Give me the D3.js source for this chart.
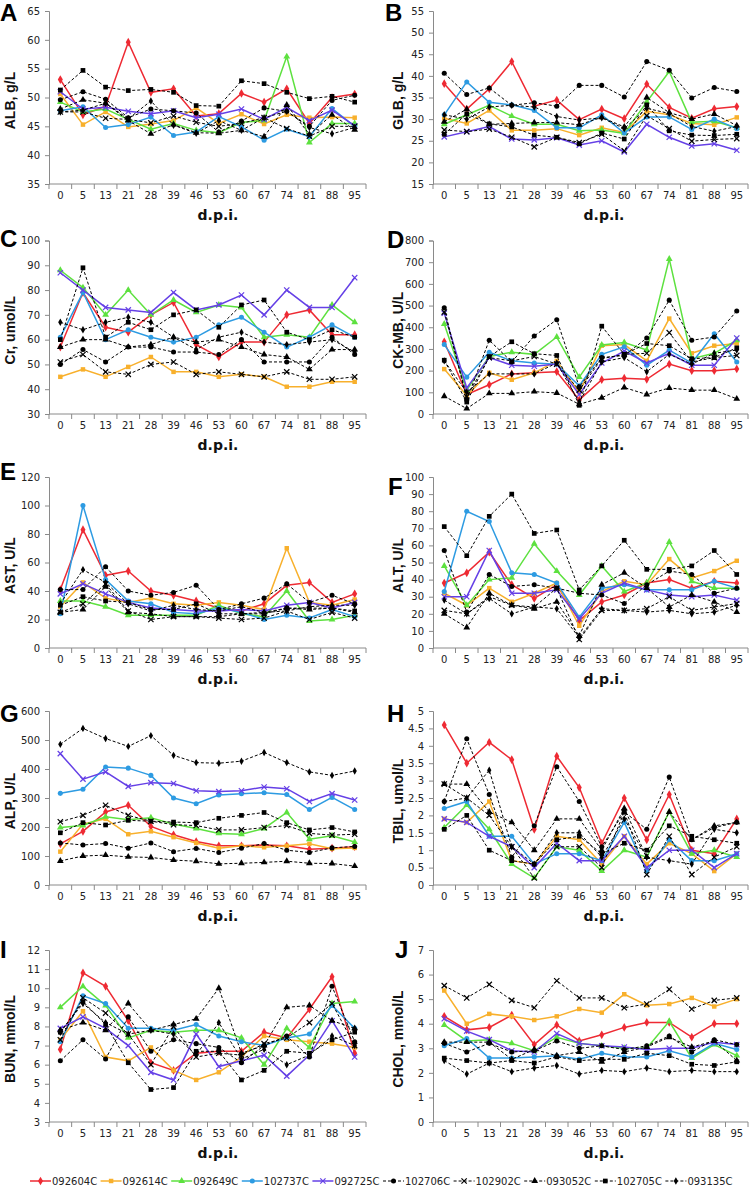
<!DOCTYPE html>
<html><head><meta charset="utf-8">
<script src="https://cdn.jsdelivr.net/npm/d3@7"></script>
<style>body{margin:0;background:#fff}</style>
</head><body>
<svg id="c" width="750" height="1190"></svg>
<script>
// ---------- DATA ----------
const categories = ["0","5","13","21","28","39","46","53","60","67","74","81","88","95"];
const seriesNames = ["092604C","092614C","092649C","102737C","092725C","102706C","102902C","093052C","102705C","093135C"];

// each panel: one row per series, in seriesNames order
const albValues = [
 [53.1,47.0,48.5,59.6,50.9,51.5,46.8,47.2,50.7,49.2,51.5,45.5,50.0,50.6],
 [50.6,45.3,47.5,44.9,45.4,46.0,48.2,45.5,47.1,45.4,47.0,46.5,46.6,46.5],
 [49.2,47.5,48.0,46.2,44.5,45.5,44.3,43.9,45.7,46.0,57.1,42.2,45.5,45.5],
 [47.7,48.4,44.8,45.3,46.6,43.4,44.0,46.7,44.9,42.6,44.5,43.2,48.1,45.0],
 [51.0,48.0,48.3,47.6,47.2,47.7,46.5,47.1,48.0,46.2,48.3,46.0,47.8,45.1],
 [49.6,51.0,49.7,46.5,48.0,47.7,47.3,44.0,45.9,48.2,47.6,45.0,49.5,50.4],
 [47.5,47.5,46.4,46.2,45.6,46.8,45.7,45.0,45.5,46.5,44.6,43.3,45.0,45.0],
 [48.0,49.6,49.0,46.0,43.7,45.3,43.9,43.8,44.3,43.2,48.7,43.6,47.0,44.4],
 [51.3,54.7,51.8,51.2,51.4,50.9,48.6,48.5,52.9,52.4,50.9,49.8,50.2,49.2],
 [47.5,47.8,49.0,46.3,49.4,45.2,43.8,46.0,44.3,46.5,47.6,44.8,43.7,44.8]];
const glbValues = [
 [38.2,32.3,37.0,43.3,33.0,34.4,29.9,32.3,30.1,38.1,32.7,30.2,32.4,32.9],
 [30.2,29.0,32.0,27.4,27.4,27.8,26.3,28.0,26.9,31.8,31.0,29.0,28.7,30.4],
 [28.8,31.0,33.2,30.7,28.8,28.8,27.3,27.5,26.7,34.0,41.0,29.3,29.5,28.0],
 [31.0,38.6,33.9,33.3,32.0,28.0,28.0,31.0,26.8,30.5,30.5,27.6,30.0,27.8],
 [25.9,27.1,28.3,25.4,25.2,25.7,24.0,25.0,22.4,28.8,25.8,23.8,24.3,22.8],
 [40.6,35.7,37.2,33.2,33.8,33.0,37.8,37.8,35.1,43.3,41.3,34.9,37.3,36.4],
 [27.5,27.1,27.7,25.8,23.6,25.8,24.6,26.5,22.7,30.8,27.8,24.9,25.3,25.5],
 [29.4,32.3,28.8,29.0,29.2,29.2,28.7,30.4,28.2,35.0,31.5,30.0,31.2,28.5],
 [26.5,31.2,28.9,28.2,26.3,25.8,24.3,26.8,25.4,33.3,27.3,26.3,26.2,26.5],
 [31.0,30.0,32.8,33.2,32.8,30.6,29.8,30.3,27.8,32.5,31.3,28.3,27.2,28.3]];
const crValues = [
 [57,79,65,63,70,75,58,53,59,59,70,72,62,62],
 [45,48,45,49,53,47,47,45,46,45,41,41,43,43],
 [88,81,70,80,70,76,71,74,73,61,62,61,74,67],
 [61,79,60,64,61,59,61,66,69,63,57,61,66,61],
 [87,80,73,72,71,79,72,74,78,70,80,73,73,85],
 [50,56,51,57,57,55,55,54,60,51,51,51,61,54],
 [51,54,47,46,50,51,46,47,46,45,47,44,44,45],
 [57,60,60,57,58,61,59,60,57,54,53,48,56,56],
 [60,89,61,67,64,70,72,65,74,76,63,60,64,61],
 [67,64,67,69,67,61,56,61,63,59,58,59,60,55]];
const ckmbValues = [
 [333,90,135,185,190,195,65,158,165,160,230,200,200,208],
 [207,85,190,158,190,245,100,315,320,245,440,280,315,325],
 [415,110,265,285,275,355,170,318,330,295,715,255,280,340],
 [320,170,285,245,235,230,130,275,310,225,295,235,370,240],
 [465,120,260,225,220,230,90,235,290,235,280,225,225,350],
 [490,65,340,240,360,435,125,260,270,350,525,340,355,475],
 [470,80,260,245,265,230,110,255,275,280,375,240,260,270],
 [82,25,95,95,103,97,45,75,122,90,120,110,110,70],
 [248,55,265,333,278,270,40,405,275,325,315,255,260,305],
 [245,100,185,185,185,235,55,240,260,195,275,230,280,295]];
const astValues = [
 [41,83,51,54,40,37,33,28,26,31,44,46,32,38],
 [29,46,35,32,35,31,30,32,30,27,70,32,30,34],
 [33,33,29,23,23,23,23,30,24,22,40,19,20,23],
 [24,100,48,33,31,25,24,28,25,20,23,21,27,22],
 [38,45,38,32,28,27,26,26,27,26,30,32,28,32],
 [41,41,57,40,37,39,44,27,31,35,45,32,37,31],
 [25,31,45,26,20,22,22,21,20,21,26,20,25,21],
 [25,27,43,25,24,22,22,22,24,25,28,27,28,25],
 [30,36,33,32,27,27,31,24,24,24,28,28,28,26],
 [31,55,46,31,26,30,27,26,29,25,26,29,30,30]];
const altValues = [
 [38,44,56,37,29,37,16,27,31,38,40,35,39,38],
 [32,25,35,27,32,38,13,33,39,37,52,41,45,51],
 [48,25,40,41,61,45,31,48,33,38,62,39,35,35],
 [33,80,74,44,43,38,18,35,37,34,34,34,39,35],
 [30,30,57,32,32,34,17,32,38,34,31,30,31,28],
 [57,21,43,36,37,35,32,31,26,37,45,43,32,35],
 [22,20,30,25,24,35,5,22,22,23,30,22,24,26],
 [20,12,32,25,23,27,7,37,44,35,24,31,27,21],
 [71,54,77,90,67,69,34,48,63,46,46,48,57,43],
 [28,20,29,20,24,23,6,23,22,21,22,20,21,25]];
const alpValues = [
 [142,185,252,275,202,173,150,135,135,138,135,123,127,132],
 [115,210,228,175,185,165,145,127,135,130,135,142,125,128],
 [198,205,235,225,232,210,195,178,175,195,250,158,170,148],
 [316,330,407,403,378,300,280,310,315,318,312,260,302,260],
 [453,365,390,340,353,350,325,322,325,338,332,288,315,293],
 [145,138,143,127,145,115,126,112,127,143,120,112,128,133],
 [218,240,275,240,220,208,205,190,190,198,205,178,172,175],
 [83,100,103,97,95,86,82,73,75,78,82,75,74,65],
 [180,215,207,223,220,217,215,230,240,250,215,190,198,183],
 [485,540,505,478,515,447,422,420,427,457,422,390,378,393]];
const tbilValues = [
 [4.6,3.5,4.1,3.6,1.6,3.7,2.8,1.2,2.5,1.3,2.6,1.0,0.9,1.9],
 [1.9,1.8,2.4,0.7,0.6,1.4,1.3,0.6,1.4,0.6,1.2,0.9,0.4,0.9],
 [1.65,2.3,1.6,0.6,0.2,1.1,1.0,0.4,1.0,0.8,2.1,0.9,1.0,0.8],
 [2.2,2.4,1.4,1.4,0.6,0.9,0.9,0.7,1.8,0.4,1.3,0.7,0.7,0.9],
 [1.9,1.8,1.4,1.1,0.5,1.2,0.7,0.7,1.4,0.5,1.0,1.0,0.5,0.9],
 [2.4,4.2,2.6,0.8,1.7,3.4,2.4,1.1,2.1,1.6,3.1,1.3,1.65,1.8],
 [2.9,2.5,2.0,1.1,0.2,1.1,1.1,0.5,2.1,0.3,1.4,0.3,0.8,1.1],
 [2.9,2.9,2.1,1.8,1.0,1.9,1.9,1.0,2.2,0.8,2.1,1.3,1.7,1.8],
 [1.6,2.0,1.0,0.7,0.6,1.3,1.4,0.9,1.2,1.0,1.7,1.4,1.3,1.2],
 [2.4,2.5,3.3,1.1,0.6,1.5,1.5,0.8,1.9,0.8,0.7,0.6,1.6,1.5]];
const bunValues = [
 [6.8,10.8,10.1,8.3,6.1,5.7,6.6,6.7,6.7,7.7,7.4,8.9,10.6,6.6],
 [7.3,8.8,6.4,6.2,6.9,5.7,5.2,5.6,6.4,7.5,7.3,7.2,7.1,6.9],
 [9.0,10.1,9.1,7.4,7.8,7.7,7.8,7.8,7.4,6.0,7.9,6.9,9.2,9.3],
 [7.2,9.6,9.2,7.9,7.9,7.8,8.1,7.5,7.2,7.0,7.4,7.6,9.1,7.9],
 [7.9,8.5,7.9,7.0,5.6,5.2,7.6,5.9,6.2,6.5,5.4,6.5,8.3,6.4],
 [6.2,7.3,6.3,8.5,6.7,7.3,7.1,6.9,6.1,7.0,7.5,6.4,10.1,7.2],
 [7.3,9.5,8.7,7.6,6.0,8.0,6.4,6.6,6.5,7.1,7.4,8.2,9.2,7.0],
 [7.8,8.2,7.8,9.2,7.8,8.1,8.4,10.0,6.6,7.0,9.0,9.1,8.3,7.9],
 [7.7,9.3,8.1,6.1,4.7,4.8,6.7,6.7,5.2,5.7,6.7,6.6,7.3,7.7],
 [7.7,9.2,8.2,7.6,7.8,7.6,6.5,8.2,6.3,6.8,6.0,6.5,7.5,7.0]];
const cholValues = [
 [4.3,3.75,3.85,4.35,3.15,3.95,3.3,3.55,3.85,4.05,4.05,3.45,4.0,4.0],
 [5.35,4.0,4.4,4.3,4.15,4.3,4.6,4.45,5.2,4.75,4.8,5.05,4.7,5.0],
 [3.95,3.3,3.35,3.2,2.9,3.45,3.2,3.1,3.0,3.0,4.1,2.6,3.15,2.7],
 [3.1,3.4,2.6,2.6,2.65,2.7,2.55,2.8,2.65,2.65,2.9,2.65,3.2,2.95],
 [4.2,3.7,3.35,2.9,2.85,3.6,3.2,3.1,3.05,2.95,3.0,3.0,3.25,3.15],
 [3.2,2.85,3.2,2.85,2.9,3.3,3.0,3.1,2.95,3.1,3.5,2.85,3.35,3.15],
 [5.55,5.05,5.6,4.95,4.65,5.75,5.05,5.05,4.65,4.8,5.4,4.6,4.95,5.05],
 [3.25,3.25,3.25,2.55,2.95,2.7,2.85,2.45,2.85,3.05,3.45,3.05,3.3,2.5],
 [2.6,2.5,2.4,2.5,2.4,2.65,2.5,2.55,2.55,2.8,2.7,2.35,2.3,2.45],
 [2.5,1.95,2.4,2.05,2.2,2.3,1.95,2.1,2.05,2.2,2.05,2.1,2.05,2.05]];

const panelLetters = ["A","B","C","D","E","F","G","H","I","J"];
const panelTitles = ["ALB, g/L","GLB, g/L","Cr, umol/L","CK-MB, U/L","AST, U/L","ALT, U/L","ALP, U/L","TBIL, umol/L","BUN, mmol/L","CHOL, mmol/L"];
const panelData = [albValues,glbValues,crValues,ckmbValues,astValues,altValues,alpValues,tbilValues,bunValues,cholValues];
const yMin = [35,15,30,0,0,0,0,0,3,0];
const yMax = [65,55,100,800,120,100,600,5,12,7];
const yStep = [5,5,10,100,20,10,100,0.5,1,1];

// ---------- STYLE / LAYOUT ----------
const colors = ["#ee2a33","#f8b02c","#5de13f","#2d9be2","#6540e6","#000","#000","#000","#000","#000"];
const timesSym = d3.symbolTimes || d3.symbolCross;
const symbols = [d3.symbolDiamond,d3.symbolSquare,d3.symbolTriangle,d3.symbolCircle,timesSym,
                 d3.symbolCircle,timesSym,d3.symbolTriangle,d3.symbolSquare,d3.symbolDiamond];
const symSize = [22,20,20,20,20,20,20,20,22,16];
const strokeSym = [false,false,false,false,true,false,true,false,false,false];
const colX = [[49,366],[433,748]];
const rowY = [[11,184],[240.5,414],[477,648],[711,885],[950,1122]];
const letterPos = [[0,21],[385,21],[0,247],[387,248],[0,480],[388,495],[0,722],[387,722],[0,958],[395,958]];

const svg = d3.select("#c");
const tickFont = "DejaVu Sans, Verdana, sans-serif";

panelData.forEach((data, p) => {
  const col = p % 2, row = Math.floor(p / 2);
  const [x0, x1] = colX[col];
  const [yt, yb] = rowY[row];
  const g = svg.append("g");
  const x = d3.scaleBand().domain(categories).range([x0, x1]);
  const y = d3.scaleLinear().domain([yMin[p], yMax[p]]).range([yb, yt]);
  const ticks = d3.range(yMin[p], yMax[p] + yStep[p] / 2, yStep[p]).map(v => +v.toFixed(2));

  // y axis
  const ya = g.append("g").attr("transform", `translate(${x0},0)`)
    .call(d3.axisLeft(y).tickValues(ticks).tickSize(4).tickPadding(5).tickFormat(d => String(d)));
  ya.select(".domain").attr("stroke", "#8a8a8a");
  ya.selectAll(".tick line").attr("stroke", "#8a8a8a");
  ya.selectAll("text").attr("font-family", tickFont).attr("font-size", 10).attr("fill", "#222");

  // x axis (Excel-style: ticks between categories)
  const xa = g.append("g").attr("transform", `translate(0,${yb})`)
    .call(d3.axisBottom(x).tickSize(0).tickPadding(8));
  xa.select(".domain").remove();
  xa.selectAll("text").attr("font-family", tickFont).attr("font-size", 10).attr("fill", "#222");
  g.append("line").attr("x1", x0).attr("x2", x1).attr("y1", yb).attr("y2", yb).attr("stroke", "#8a8a8a");
  const bounds = categories.map(c => x(c)).concat([x1]);
  g.selectAll(".xt").data(bounds).join("line")
    .attr("x1", d => d).attr("x2", d => d).attr("y1", yb).attr("y2", yb + 5).attr("stroke", "#8a8a8a");

  // titles
  g.append("text").attr("x", col ? 604 : 218).attr("y", yb + 31).attr("text-anchor", "middle")
    .attr("dominant-baseline", "central").attr("font-family", tickFont).attr("font-weight", "bold")
    .attr("font-size", 14).attr("fill", "#111").text("d.p.i.");
  const yc = (yt + yb) / 2 + 3;
  const tx = col ? 398 : 10;
  g.append("text").attr("transform", `translate(${tx},${yc}) rotate(-90)`).attr("text-anchor", "middle")
    .attr("dominant-baseline", "central").attr("font-family", "Liberation Sans, Arial, sans-serif")
    .attr("font-weight", "bold").attr("font-size", 14).attr("fill", "#111").text(panelTitles[p]);
  g.append("text").attr("x", letterPos[p][0]).attr("y", letterPos[p][1])
    .attr("font-family", "Liberation Sans, Arial, sans-serif").attr("font-weight", "bold")
    .attr("font-size", 24).attr("fill", "#000").text(panelLetters[p]);

  // series
  const cx = c => x(c) + x.bandwidth() / 2;
  data.forEach((vals, s) => {
    const pts = vals.map((v, i) => [categories[i], v]);
    const line = d3.line().x(d => cx(d[0])).y(d => y(d[1]));
    g.append("path").datum(pts).attr("d", line).attr("fill", "none")
      .attr("stroke", colors[s]).attr("stroke-width", s < 5 ? 1.5 : 1)
      .attr("stroke-dasharray", s < 5 ? null : "3,2");
    const sym = d3.symbol().type(symbols[s]).size(symSize[s]);
    g.selectAll(null).data(pts).join("path")
      .attr("transform", d => `translate(${cx(d[0])},${y(d[1])})`)
      .attr("d", sym)
      .attr("fill", strokeSym[s] ? "none" : colors[s])
      .attr("stroke", strokeSym[s] ? colors[s] : "none").attr("stroke-width", 1.2);
  });
});

// legend
const lg = svg.append("g");
seriesNames.forEach((name, s) => {
  const lx = 30 + s * 70.6, ly = 1181;
  lg.append("line").attr("x1", lx).attr("x2", lx + 21).attr("y1", ly).attr("y2", ly)
    .attr("stroke", colors[s]).attr("stroke-width", s < 5 ? 1.5 : 1).attr("stroke-dasharray", s < 5 ? null : "3,2");
  lg.append("path").attr("transform", `translate(${lx + 10.5},${ly})`)
    .attr("d", d3.symbol().type(symbols[s]).size(symSize[s])())
    .attr("fill", strokeSym[s] ? "none" : colors[s]).attr("stroke", strokeSym[s] ? colors[s] : "none").attr("stroke-width", 1.2);
  lg.append("text").attr("x", lx + 22).attr("y", ly).attr("dominant-baseline", "central")
    .attr("font-family", tickFont).attr("font-size", 10).attr("fill", "#222").text(name);
});
</script>
</body></html>
